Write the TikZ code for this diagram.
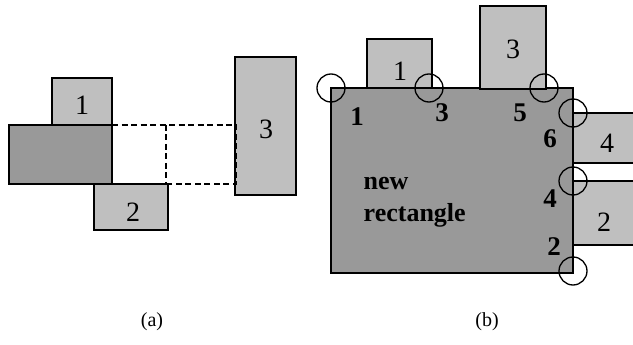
\documentclass[tikz,border=0pt]{standalone}
\usepackage{fontspec}
\setmainfont{Liberation Serif}
\begin{document}
\begin{tikzpicture}[x=1pt,y=-1pt,
  line width=1.4pt,
  darkbox/.style={draw=black,fill=black!40},
  lightbox/.style={draw=black,fill=black!25},
  dash line/.style={dash pattern=on 6pt off 3.5pt},
  boxlbl/.style={font=\fontsize{28}{28}\selectfont,inner sep=0pt},
  corner/.style={font=\bfseries\fontsize{27}{27}\selectfont,inner sep=0pt},
  caption/.style={font=\fontsize{20}{20}\selectfont,inner sep=0pt},
  marker/.style={draw=black,line width=1.3pt}]
\useasboundingbox (0,0) rectangle (633,345);
% ---------- (a) ----------
\draw[lightbox] (52,78) rectangle (112,125);
\draw[darkbox] (9,125) rectangle (112,184);
\draw[lightbox] (94,184) rectangle (168,230);
\draw[lightbox] (235,57) rectangle (296,195);
\draw[dash line] (112,125) -- (236,125) -- (236,184) -- (112,184);
\draw[dash line] (166,125) -- (166,184);
\node[boxlbl] (a1) at (82,105) {1};
\node[boxlbl] (a2) at (133,212) {2};
\node[boxlbl] (a3) at (266,129) {3};
% ---------- (b) ----------
\draw[darkbox] (331,88) rectangle (573,273);
\draw[lightbox] (367,39) rectangle (432,88);
\draw[lightbox] (480,6) rectangle (546,89);
\draw[lightbox] (634,113) -- (573,113) -- (573,163) -- (634,163);
\draw[lightbox] (634,181) -- (573,181) -- (573,245) -- (634,245);
\node[boxlbl] (b1) at (400,71) {1};
\node[boxlbl] (b3) at (513,49) {3};
\node[boxlbl] (b4) at (607,143) {4};
\node[boxlbl] (b2) at (604,222) {2};
\foreach \p in {(331,88),(429,88),(544,88),(573,113),(573,181),(573,271)}
  \draw[marker] \p circle (14);
\node[corner] (n1) at (357,117) {1};
\node[corner] (n3) at (442,113) {3};
\node[corner] (n5) at (520,113) {5};
\node[corner] (n6) at (550,139) {6};
\node[corner] (n4) at (550,199) {4};
\node[corner] (n2) at (554,247) {2};
\node[font=\bfseries\fontsize{26}{32}\selectfont,align=left,anchor=west,inner sep=0pt] (nr) at (363,202) {new\\rectangle};
% captions
\node[caption] (capa) at (152,322) {(a)};
\node[caption] (capb) at (487,322) {(b)};
\end{tikzpicture}
\end{document}
